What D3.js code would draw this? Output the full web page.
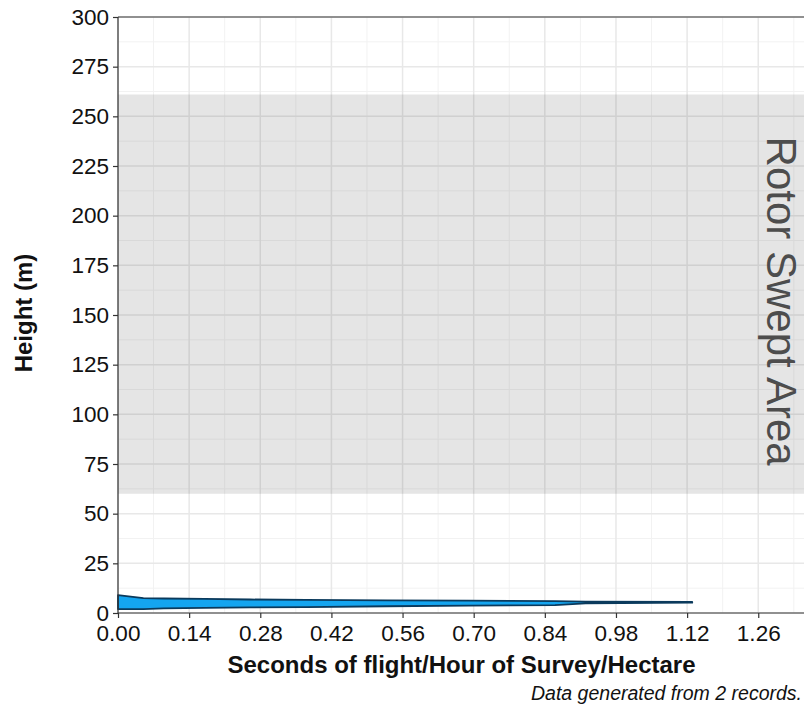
<!DOCTYPE html>
<html>
<head>
<meta charset="utf-8">
<script src="https://cdn.jsdelivr.net/npm/d3@7"></script>
<style>
  html, body { margin: 0; padding: 0; background: #fff; }
  svg { display: block; font-family: "Liberation Sans", Arial, sans-serif; }
</style>
</head>
<body>
<svg id="chart" width="804" height="710"></svg>
<script>
// ---- data ----
const xTickValues = [0, 0.14, 0.28, 0.42, 0.56, 0.70, 0.84, 0.98, 1.12, 1.26];
const xMinorValues = [0.07, 0.21, 0.35, 0.49, 0.63, 0.77, 0.91, 1.05, 1.19, 1.33];
const yTickValues = [0, 25, 50, 75, 100, 125, 150, 175, 200, 225, 250, 275, 300];
const yMinorValues = [12.5, 37.5, 62.5, 87.5, 112.5, 137.5, 162.5, 187.5, 212.5, 237.5, 262.5, 287.5];
const rotorBand = [60, 261];
const rotorLabel = "Rotor Swept Area";
// flight-height profile (seconds of flight vs height band)
const flightSeconds = [0.00, 0.05, 0.09, 0.17, 0.26, 0.37, 0.53, 0.69, 0.86, 0.92, 1.13];
const upperHeight   = [9.0, 7.5, 7.3, 7.1, 6.8, 6.6, 6.4, 6.2, 6.0, 5.7, 5.6];
const lowerHeight   = [2.0, 2.0, 2.3, 2.6, 2.8, 3.0, 3.4, 3.7, 4.0, 4.8, 5.2];
const xTitle = "Seconds of flight/Hour of Survey/Hectare";
const yTitle = "Height (m)";
const caption = "Data generated from 2 records.";

(function () {
// ---- layout ----
const svg = d3.select("#chart");
const pL = 118, pT = 17, pR = 805, pB = 613;
const x = d3.scaleLinear().domain([0, 1.352]).range([pL, pR]);
const y = d3.scaleLinear().domain([0, 300]).range([pB, pT]);

const panel = svg.append("g");
panel.append("rect").attr("x", pL).attr("y", pT).attr("width", pR - pL).attr("height", pB - pT).attr("fill", "#fff");

// grid
panel.selectAll(".xminor").data(xMinorValues).enter().append("line")
  .attr("x1", d => x(d)).attr("x2", d => x(d)).attr("y1", pT).attr("y2", pB)
  .attr("stroke", "#F2F2F2").attr("stroke-width", 1);
panel.selectAll(".yminor").data(yMinorValues).enter().append("line")
  .attr("x1", pL).attr("x2", pR).attr("y1", d => y(d)).attr("y2", d => y(d))
  .attr("stroke", "#F2F2F2").attr("stroke-width", 1);
panel.selectAll(".xmajor").data(xTickValues).enter().append("line")
  .attr("x1", d => x(d)).attr("x2", d => x(d)).attr("y1", pT).attr("y2", pB)
  .attr("stroke", "#E8E8E8").attr("stroke-width", 1.5);
panel.selectAll(".ymajor").data(yTickValues).enter().append("line")
  .attr("x1", pL).attr("x2", pR).attr("y1", d => y(d)).attr("y2", d => y(d))
  .attr("stroke", "#E8E8E8").attr("stroke-width", 1.5);

// rotor band
panel.append("rect")
  .attr("x", pL).attr("width", pR - pL)
  .attr("y", y(rotorBand[1])).attr("height", y(rotorBand[0]) - y(rotorBand[1]))
  .attr("fill", "#000").attr("fill-opacity", 0.1);

const midY = y((rotorBand[0] + rotorBand[1]) / 2) + 7;
panel.append("text")
  .attr("transform", `translate(${767},${midY}) rotate(90)`)
  .attr("text-anchor", "middle")
  .attr("font-size", 42)
  .attr("fill", "#4D4D4D")
  .text(rotorLabel);

// profile shape
const profile = flightSeconds.map((s, i) => ({ s, hi: upperHeight[i], lo: lowerHeight[i] }));
const area = d3.area().x(d => x(d.s)).y0(d => y(d.lo)).y1(d => y(d.hi));
panel.append("path").datum(profile)
  .attr("d", area)
  .attr("fill", "#14A5F0")
  .attr("stroke", "#0B3A5C")
  .attr("stroke-width", 1.8)
  .attr("stroke-linejoin", "round");

// top border
svg.append("line").attr("x1", pL).attr("x2", pR).attr("y1", pT).attr("y2", pT)
  .attr("stroke", "#333").attr("stroke-width", 1.2);

// axes
const xAxis = d3.axisBottom(x).tickValues(xTickValues).tickFormat(d3.format(".2f")).tickSize(5).tickPadding(7);
const gx = svg.append("g").attr("transform", `translate(0,${pB})`).call(xAxis);
const yAxis = d3.axisLeft(y).tickValues(yTickValues).tickSize(5).tickPadding(4);
const gy = svg.append("g").attr("transform", `translate(${pL},0)`).call(yAxis);
[gx, gy].forEach(g => {
  g.select(".domain").attr("stroke", "#333").attr("stroke-width", 1.2);
  g.selectAll(".tick line").attr("stroke", "#333").attr("stroke-width", 1.2);
  g.selectAll(".tick text").attr("font-size", 22.5).attr("fill", "#111")
    .attr("font-family", "Liberation Sans, Arial, sans-serif");
});
gy.select(".domain").attr("d", `M0,${pB}V${pT}`);
gx.select(".domain").attr("d", `M${pL},0H${pR}`);

// titles
svg.append("text").attr("x", 461.5).attr("y", 673)
  .attr("text-anchor", "middle").attr("font-size", 24).attr("font-weight", "bold").attr("fill", "#111")
  .text(xTitle);
svg.append("text").attr("transform", `translate(32,${(pT + pB) / 2 - 2}) rotate(-90)`)
  .attr("text-anchor", "middle").attr("font-size", 24).attr("font-weight", "bold").attr("fill", "#111")
  .text(yTitle);
svg.append("text").attr("x", 802).attr("y", 700)
  .attr("text-anchor", "end").attr("font-size", 19.5).attr("font-style", "italic").attr("fill", "#111")
  .text(caption);
})();
</script>
</body>
</html>
